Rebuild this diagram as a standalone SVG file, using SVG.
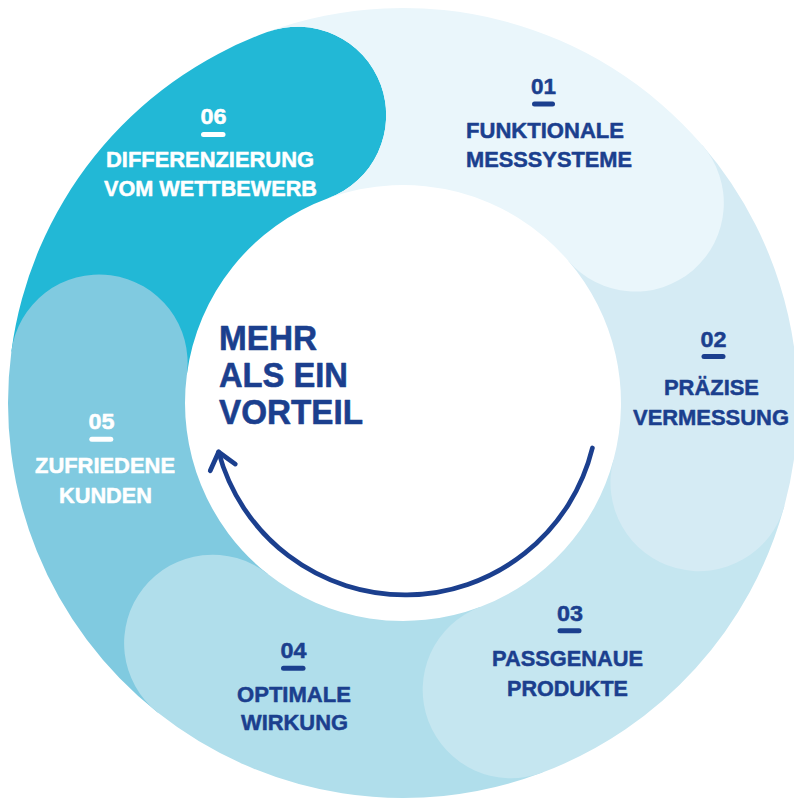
<svg xmlns="http://www.w3.org/2000/svg" width="794" height="799" viewBox="0 0 794 799">
<style>
.lbl{font-family:"Liberation Sans",Arial,sans-serif;font-weight:bold;font-size:22px;text-anchor:middle;stroke-width:0.5px;stroke-linejoin:round}
.dark{fill:#1b3f8e;stroke:#1b3f8e}
.light{fill:#ffffff;stroke:#ffffff}
.title{font-family:"Liberation Sans",Arial,sans-serif;font-weight:bold;font-size:34.5px;fill:#1b3f8e;stroke:#1b3f8e;stroke-width:0.6px;stroke-linejoin:round}
.s1{fill:#eaf6fb}.s2{fill:#d5ebf4}.s3{fill:#c5e6f0}.s4{fill:#b0deeb}.s5{fill:#80cae0}.s6{fill:#22b8d6}
.conn{fill:none;stroke:#1b3f8e;stroke-width:4.7;stroke-linecap:round;stroke-linejoin:round}
rect.dark,rect.light{stroke:none}
</style>
<defs>
<marker id="head" markerUnits="userSpaceOnUse" markerWidth="44" markerHeight="44" viewBox="-22 -22 44 44" refX="0" refY="0" orient="auto" overflow="visible">
<path d="M -16 -13 L 0 0 L -16 13" class="conn"/>
</marker>
</defs>
<rect width="794" height="799" fill="#ffffff"/>
<g id="node-06">
<path class="s6" d="M 11.38 351.44 A 395 395 0 0 1 267.25 32.06 A 88.5 88.5 0 0 1 328.08 198.28 A 218 218 0 0 0 186.87 374.54 Z"/>
<text class="lbl light" x="213.5" y="124" textLength="26" lengthAdjust="spacingAndGlyphs">06</text>
<rect class="light" x="201" y="132" width="24.5" height="5" rx="2.5"/>
<text class="lbl light" x="210" y="167" textLength="208" lengthAdjust="spacingAndGlyphs">DIFFERENZIERUNG</text>
<text class="lbl light" x="210.5" y="196" textLength="213" lengthAdjust="spacingAndGlyphs">VOM WETTBEWERB</text>
</g>
<g id="node-05">
<path class="s5" d="M 157.65 712.56 A 395 395 0 0 1 11.38 351.44 A 88.5 88.5 0 0 1 186.87 374.54 A 218 218 0 0 0 267.59 573.84 Z"/>
<text class="lbl light" x="101.5" y="429" textLength="26" lengthAdjust="spacingAndGlyphs">05</text>
<rect class="light" x="89.3" y="436.7" width="24" height="5" rx="2.5"/>
<text class="lbl light" x="105" y="473" textLength="140" lengthAdjust="spacingAndGlyphs">ZUFRIEDENE</text>
<text class="lbl light" x="105.5" y="503" textLength="93" lengthAdjust="spacingAndGlyphs">KUNDEN</text>
</g>
<g id="node-04">
<path class="s4" d="M 542.41 772.58 A 395 395 0 0 1 157.65 712.56 A 88.5 88.5 0 0 1 267.59 573.84 A 218 218 0 0 0 479.94 606.97 Z"/>
<text class="lbl dark" x="293.5" y="658" textLength="26" lengthAdjust="spacingAndGlyphs">04</text>
<rect class="dark" x="281" y="665.7" width="24.5" height="5" rx="2.5"/>
<text class="lbl dark" x="294" y="702" textLength="114" lengthAdjust="spacingAndGlyphs">OPTIMALE</text>
<text class="lbl dark" x="294.5" y="730" textLength="107" lengthAdjust="spacingAndGlyphs">WIRKUNG</text>
</g>
<g id="node-03">
<path class="s3" d="M 784.42 505.70 A 395 395 0 0 1 542.41 772.58 A 88.5 88.5 0 0 1 479.94 606.97 A 218 218 0 0 0 613.50 459.68 Z"/>
<text class="lbl dark" x="570" y="621" textLength="26" lengthAdjust="spacingAndGlyphs">03</text>
<rect class="dark" x="557.5" y="628.3" width="24" height="5" rx="2.5"/>
<text class="lbl dark" x="567.5" y="666" textLength="151" lengthAdjust="spacingAndGlyphs">PASSGENAUE</text>
<text class="lbl dark" x="567.5" y="696" textLength="121" lengthAdjust="spacingAndGlyphs">PRODUKTE</text>
</g>
<g id="node-02">
<path class="s2" d="M 702.39 145.34 A 395 395 0 0 1 784.42 505.70 A 88.5 88.5 0 0 1 613.50 459.68 A 218 218 0 0 0 568.23 260.80 Z"/>
<text class="lbl dark" x="713.5" y="347" textLength="26" lengthAdjust="spacingAndGlyphs">02</text>
<rect class="dark" x="701.5" y="354" width="24" height="5" rx="2.5"/>
<text class="lbl dark" x="711.5" y="395" textLength="95" lengthAdjust="spacingAndGlyphs">PRÄZISE</text>
<text class="lbl dark" x="711" y="425" textLength="156" lengthAdjust="spacingAndGlyphs">VERMESSUNG</text>
</g>
<g id="node-01">
<path class="s1" d="M 267.25 32.06 A 395 395 0 0 1 702.39 145.34 A 88.5 88.5 0 0 1 568.23 260.80 A 218 218 0 0 0 328.08 198.28 A 88.5 88.5 0 0 0 267.25 32.06 Z"/>
<text class="lbl dark" x="543.5" y="94" textLength="25" lengthAdjust="spacingAndGlyphs">01</text>
<rect class="dark" x="532" y="101.5" width="23" height="5" rx="2.5"/>
<text class="lbl dark" x="545" y="138" textLength="158" lengthAdjust="spacingAndGlyphs">FUNKTIONALE</text>
<text class="lbl dark" x="549" y="167" textLength="166" lengthAdjust="spacingAndGlyphs">MESSSYSTEME</text>
</g>
<g id="center">
<text class="title" x="219" y="350" textLength="98" lengthAdjust="spacingAndGlyphs">MEHR</text>
<text class="title" x="219" y="387" textLength="129" lengthAdjust="spacingAndGlyphs">ALS EIN</text>
<text class="title" x="219" y="424" textLength="144" lengthAdjust="spacingAndGlyphs">VORTEIL</text>
</g>
<g id="connectors">
<path class="conn" d="M 592.4 448 A 193 193 0 0 1 218.6 452" marker-end="url(#head)"/>
</g>
</svg>
